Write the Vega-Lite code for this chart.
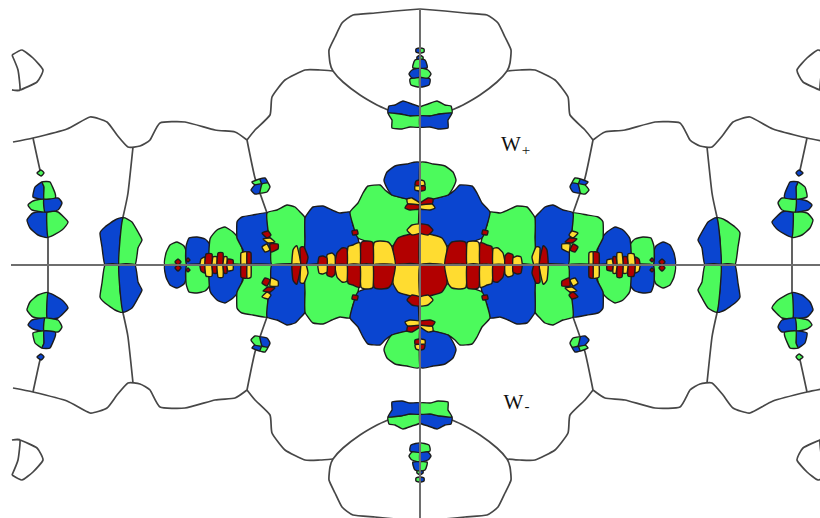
{"$schema":"https://vega.github.io/schema/vega-lite/v6.json","width":820,"height":518,"padding":0,"autosize":"none","background":"white","view":{"stroke":null},"encoding":{"x":{"field":"x","type":"quantitative","axis":null,"scale":{"domain":[-420,400]}},"y":{"field":"y","type":"quantitative","axis":null,"scale":{"domain":[-253,265]}}},"layer":[
{"data":{"values":[
{"r":"A1","x":[0,-25,-45,-67,-78,-85,-91,-90,-87,-77,-60,-43,-32],"y":[256,254,252,250,242,228,215,202,194,183,170,160,155]},
{"r":"A2","x":[0,25,45,67,78,85,91,90,87,77,60,43,32],"y":[256,254,252,250,242,228,215,202,194,183,170,160,155]},
{"r":"A3","x":[0,-25,-45,-67,-78,-85,-91,-90,-87,-77,-60,-43,-32],"y":[-256,-254,-252,-250,-242,-228,-215,-202,-194,-183,-170,-160,-155]},
{"r":"A4","x":[0,25,45,67,78,85,91,90,87,77,60,43,32],"y":[-256,-254,-252,-250,-242,-228,-215,-202,-194,-183,-170,-160,-155]},
{"r":"B1","x":[-87,-100,-115,-135,-148,-150,-165,-173],"y":[194,195,195,185,168,150,135,125]},
{"r":"B2","x":[87,100,115,135,148,150,165,173],"y":[194,195,195,185,168,150,135,125]},
{"r":"B3","x":[-87,-100,-115,-135,-148,-150,-165,-173],"y":[-194,-195,-195,-185,-168,-150,-135,-125]},
{"r":"B4","x":[87,100,115,135,148,150,165,173],"y":[-194,-195,-195,-185,-168,-150,-135,-125]},
{"r":"C1","x":[-173,-165,-153],"y":[125,87,52]},
{"r":"C2","x":[173,165,153],"y":[125,87,52]},
{"r":"C3","x":[-173,-165,-153],"y":[-125,-87,-52]},
{"r":"C4","x":[173,165,153],"y":[-125,-87,-52]},
{"r":"D1","x":[-407,-387,-353,-330,-313,-303,-292,-280,-270,-260,-235,-205,-185,-173],"y":[123,127,136,148,143,130,118,119,125,142,143,135,133,125]},
{"r":"D2","x":[407,387,353,330,313,303,292,280,270,260,235,205,185,173],"y":[123,127,136,148,143,130,118,119,125,142,143,135,133,125]},
{"r":"D3","x":[-407,-387,-353,-330,-313,-303,-292,-280,-270,-260,-235,-205,-185,-173],"y":[-123,-127,-136,-148,-143,-130,-118,-119,-125,-142,-143,-135,-133,-125]},
{"r":"D4","x":[407,387,353,330,313,303,292,280,270,260,235,205,185,173],"y":[-123,-127,-136,-148,-143,-130,-118,-119,-125,-142,-143,-135,-133,-125]},
{"r":"E1","x":[-287,-292,-297],"y":[118,72,48]},
{"r":"E2","x":[287,292,297],"y":[118,72,48]},
{"r":"E3","x":[-287,-292,-297],"y":[-118,-72,-48]},
{"r":"E4","x":[287,292,297],"y":[-118,-72,-48]},
{"r":"F1","x":[-387,-380,-378],"y":[127,95,92]},
{"r":"F2","x":[387,380,378],"y":[127,95,92]},
{"r":"F3","x":[-387,-380,-378],"y":[-127,-95,-92]},
{"r":"F4","x":[387,380,378],"y":[-127,-95,-92]},
{"r":"G1","x":[-408,-398,-387,-377,-383,-400,-408,-400,-402,-408],"y":[210,215,207,195,183,175,175,175,195,210]},
{"r":"G2","x":[408,398,387,377,383,400,408,400,402,408],"y":[210,215,207,195,183,175,175,175,195,210]},
{"r":"G3","x":[-408,-398,-387,-377,-383,-400,-408,-400,-402,-408],"y":[-210,-215,-207,-195,-183,-175,-175,-175,-195,-210]},
{"r":"G4","x":[408,398,387,377,383,400,408,400,402,408],"y":[-210,-215,-207,-195,-183,-175,-175,-175,-195,-210]},
{"r":"V1","x":[-372,-372],"y":[-30,30]},
{"r":"V2","x":[372,372],"y":[-30,30]}
]},"transform":[{"flatten":["x","y"]}],"mark":{"type":"line","order":null,"interpolate":"cardinal","tension":0.5,"stroke":"#474747","strokeWidth":1.7,"clip":true},"encoding":{"detail":{"field":"r"}}},
{"data":{"values":[
{"r":"P1a","c":"g","x":[-255,-254,-250,-243,-236,-233,-232],"y":[0,12,20,23,19,10,0]},
{"r":"P1b","c":"b","x":[255,254,250,243,236,233,232],"y":[0,12,20,23,19,10,0]},
{"r":"P1c","c":"b","x":[-255,-254,-250,-243,-236,-233,-232],"y":[0,-12,-20,-23,-19,-10,0]},
{"r":"P1d","c":"g","x":[255,254,250,243,236,233,232],"y":[0,-12,-20,-23,-19,-10,0]},
{"r":"P2a","c":"b","x":[-233,-234,-231,-223,-215,-210,-209],"y":[0,18,27,28,26,20,0]},
{"r":"P2b","c":"g","x":[233,234,231,223,215,210,209],"y":[0,18,27,28,26,20,0]},
{"r":"P2c","c":"g","x":[-233,-234,-231,-223,-215,-210,-209],"y":[0,-18,-27,-28,-26,-20,0]},
{"r":"P2d","c":"b","x":[233,234,231,223,215,210,209],"y":[0,-18,-27,-28,-26,-20,0]},
{"r":"P3a","c":"g","x":[-210,-210,-203,-195,-187,-182,-178,-177],"y":[0,26,35,38,33,27,17,0]},
{"r":"P3b","c":"b","x":[210,210,203,195,187,182,178,177],"y":[0,26,35,38,33,27,17,0]},
{"r":"P3c","c":"b","x":[-210,-210,-203,-195,-187,-182,-178,-177],"y":[0,-26,-35,-38,-33,-27,-17,0]},
{"r":"P3d","c":"g","x":[210,210,203,195,187,182,178,177],"y":[0,-26,-35,-38,-33,-27,-17,0]},
{"r":"P4a","c":"b","x":[-175,-177,-183,-183,-178,-167,-153,-152,-149,-148],"y":[0,15,27,43,48,50,52,35,22,0]},
{"r":"P4b","c":"g","x":[175,177,183,183,178,167,153,152,149,148],"y":[0,15,27,43,48,50,52,35,22,0]},
{"r":"P4c","c":"g","x":[-175,-177,-183,-183,-178,-167,-153,-152,-149,-148],"y":[0,-15,-27,-43,-48,-50,-52,-35,-22,0]},
{"r":"P4d","c":"b","x":[175,177,183,183,178,167,153,152,149,148],"y":[0,-15,-27,-43,-48,-50,-52,-35,-22,0]},
{"r":"P5a","c":"g","x":[-148,-149,-152,-153,-143,-133,-125,-120,-115,-115,-113],"y":[0,22,35,52,55,60,58,53,47,28,0]},
{"r":"P5b","c":"b","x":[148,149,152,153,143,133,125,120,115,115,113],"y":[0,22,35,52,55,60,58,53,47,28,0]},
{"r":"P5c","c":"b","x":[-148,-149,-152,-153,-143,-133,-125,-120,-115,-115,-113],"y":[0,-22,-35,-52,-55,-60,-58,-53,-47,-28,0]},
{"r":"P5d","c":"g","x":[148,149,152,153,143,133,125,120,115,115,113],"y":[0,-22,-35,-52,-55,-60,-58,-53,-47,-28,0]},
{"r":"P6a","c":"b","x":[-113,-115,-115,-112,-107,-97,-88,-80,-70,-67,-62,-60],"y":[0,28,47,52,58,59,55,52,53,40,27,0]},
{"r":"P6b","c":"g","x":[113,115,115,112,107,97,88,80,70,67,62,60],"y":[0,28,47,52,58,59,55,52,53,40,27,0]},
{"r":"P6c","c":"g","x":[-113,-115,-115,-112,-107,-97,-88,-80,-70,-67,-62,-60],"y":[0,-28,-47,-52,-58,-59,-55,-52,-53,-40,-27,0]},
{"r":"P6d","c":"b","x":[113,115,115,112,107,97,88,80,70,67,62,60],"y":[0,-28,-47,-52,-58,-59,-55,-52,-53,-40,-27,0]},
{"r":"P7a","c":"g","x":[-70,-62,-57,-52,-40,-35,-28,-13,0,0,-40,-62,-67],"y":[53,62,72,79,80,75,70,66,63,20,20,27,40]},
{"r":"P7b","c":"b","x":[70,62,57,52,40,35,28,13,0,0,40,62,67],"y":[53,62,72,79,80,75,70,66,63,20,20,27,40]},
{"r":"P7c","c":"b","x":[-70,-62,-57,-52,-40,-35,-28,-13,0,0,-40,-62,-67],"y":[-53,-62,-72,-79,-80,-75,-70,-66,-63,-20,-20,-27,-40]},
{"r":"P7d","c":"g","x":[70,62,57,52,40,35,28,13,0,0,40,62,67],"y":[-53,-62,-72,-79,-80,-75,-70,-66,-63,-20,-20,-27,-40]},
{"r":"P8a","c":"b","x":[0,-13,-25,-33,-36,-33,-28,-13,0],"y":[102,101,99,93,85,77,70,66,63]},
{"r":"P8b","c":"g","x":[0,13,25,33,36,33,28,13,0],"y":[102,101,99,93,85,77,70,66,63]},
{"r":"P8c","c":"g","x":[0,-13,-25,-33,-36,-33,-28,-13,0],"y":[-102,-101,-99,-93,-85,-77,-70,-66,-63]},
{"r":"P8d","c":"b","x":[0,13,25,33,36,33,28,13,0],"y":[-102,-101,-99,-93,-85,-77,-70,-66,-63]},
{"r":"S1a","c":"r","x":[0,-13,-22,-27,-25,0],"y":[32,30,27,18,0,0]},
{"r":"S1b","c":"y","x":[0,13,22,27,25,0],"y":[32,30,27,18,0,0]},
{"r":"S1c","c":"y","x":[0,-13,-22,-27,-25,0],"y":[-32,-30,-27,-18,0,0]},
{"r":"S1d","c":"r","x":[0,13,22,27,25,0],"y":[-32,-30,-27,-18,0,0]},
{"r":"S2a","c":"y","x":[0,-8,-13,-8,0],"y":[41,40,35,30,32]},
{"r":"S2b","c":"r","x":[0,8,13,8,0],"y":[41,40,35,30,32]},
{"r":"S2c","c":"r","x":[0,-8,-13,-8,0],"y":[-41,-40,-35,-30,-32]},
{"r":"S2d","c":"y","x":[0,8,13,8,0],"y":[-41,-40,-35,-30,-32]},
{"r":"S3a","c":"y","x":[-47,-46,-40,-32,-28,-25],"y":[0,22,24,23,18,0]},
{"r":"S3b","c":"r","x":[47,46,40,32,28,25],"y":[0,22,24,23,18,0]},
{"r":"S3c","c":"r","x":[-47,-46,-40,-32,-28,-25],"y":[0,-22,-24,-23,-18,0]},
{"r":"S3d","c":"y","x":[47,46,40,32,28,25],"y":[0,-22,-24,-23,-18,0]},
{"r":"S4a","c":"r","x":[-60,-59,-53,-47,-47],"y":[0,22,24,22,0]},
{"r":"S4b","c":"y","x":[60,59,53,47,47],"y":[0,22,24,22,0]},
{"r":"S4c","c":"y","x":[-60,-59,-53,-47,-47],"y":[0,-22,-24,-22,0]},
{"r":"S4d","c":"r","x":[60,59,53,47,47],"y":[0,-22,-24,-22,0]},
{"r":"S5a","c":"y","x":[-73,-72,-67,-60,-60],"y":[0,18,20,22,0]},
{"r":"S5b","c":"r","x":[73,72,67,60,60],"y":[0,18,20,22,0]},
{"r":"S5c","c":"r","x":[-73,-72,-67,-60,-60],"y":[0,-18,-20,-22,0]},
{"r":"S5d","c":"y","x":[73,72,67,60,60],"y":[0,-18,-20,-22,0]},
{"r":"S6a","c":"r","x":[-85,-83,-78,-73,-73],"y":[0,12,17,16,0]},
{"r":"S6b","c":"y","x":[85,83,78,73,73],"y":[0,12,17,16,0]},
{"r":"S6c","c":"y","x":[-85,-83,-78,-73,-73],"y":[0,-12,-17,-16,0]},
{"r":"S6d","c":"r","x":[85,83,78,73,73],"y":[0,-12,-17,-16,0]},
{"r":"S7a","c":"y","x":[-93,-93,-88,-85,-85],"y":[0,10,12,9,0]},
{"r":"S7b","c":"r","x":[93,93,88,85,85],"y":[0,10,12,9,0]},
{"r":"S7c","c":"r","x":[-93,-93,-88,-85,-85],"y":[0,-10,-12,-9,0]},
{"r":"S7d","c":"y","x":[93,93,88,85,85],"y":[0,-10,-12,-9,0]},
{"r":"S8a","c":"r","x":[-102,-101,-97,-93,-93],"y":[0,8,9,7,0]},
{"r":"S8b","c":"y","x":[102,101,97,93,93],"y":[0,8,9,7,0]},
{"r":"S8c","c":"y","x":[-102,-101,-97,-93,-93],"y":[0,-8,-9,-7,0]},
{"r":"S8d","c":"r","x":[102,101,97,93,93],"y":[0,-8,-9,-7,0]},
{"r":"S9a","c":"y","x":[-128,-127,-123,-119],"y":[0,15,19,0]},
{"r":"S9b","c":"r","x":[128,127,123,119],"y":[0,15,19,0]},
{"r":"S9c","c":"r","x":[-128,-127,-123,-119],"y":[0,-15,-19,0]},
{"r":"S9d","c":"y","x":[128,127,123,119],"y":[0,-15,-19,0]},
{"r":"S10a","c":"r","x":[-119,-120,-116,-112,-114],"y":[0,17,18,8,0]},
{"r":"S10b","c":"y","x":[119,120,116,112,114],"y":[0,17,18,8,0]},
{"r":"S10c","c":"y","x":[-119,-120,-116,-112,-114],"y":[0,-17,-18,-8,0]},
{"r":"S10d","c":"r","x":[119,120,116,112,114],"y":[0,-17,-18,-8,0]},
{"r":"S11a","c":"y","x":[-179,-179,-173,-173],"y":[0,12,13,0]},
{"r":"S11b","c":"r","x":[179,179,173,173],"y":[0,12,13,0]},
{"r":"S11c","c":"r","x":[-179,-179,-173,-173],"y":[0,-12,-13,0]},
{"r":"S11d","c":"y","x":[179,179,173,173],"y":[0,-12,-13,0]},
{"r":"S12a","c":"r","x":[-173,-173,-169,-169],"y":[0,13,12,0]},
{"r":"S12b","c":"y","x":[173,173,169,169],"y":[0,13,12,0]},
{"r":"S12c","c":"y","x":[-173,-173,-169,-169],"y":[0,-13,-12,0]},
{"r":"S12d","c":"r","x":[173,173,169,169],"y":[0,-13,-12,0]},
{"r":"T1a","c":"y","x":[-220,-219,-215,-215],"y":[0,6,8,0]},
{"r":"T1b","c":"r","x":[220,219,215,215],"y":[0,6,8,0]},
{"r":"T1c","c":"r","x":[-220,-219,-215,-215],"y":[0,-6,-8,0]},
{"r":"T1d","c":"y","x":[220,219,215,215],"y":[0,-6,-8,0]},
{"r":"T2a","c":"r","x":[-215,-214,-208,-208],"y":[0,11,11,0]},
{"r":"T2b","c":"y","x":[215,214,208,208],"y":[0,11,11,0]},
{"r":"T2c","c":"y","x":[-215,-214,-208,-208],"y":[0,-11,-11,0]},
{"r":"T2d","c":"r","x":[215,214,208,208],"y":[0,-11,-11,0]},
{"r":"T3a","c":"y","x":[-208,-207,-203,-203],"y":[0,8,8,0]},
{"r":"T3b","c":"r","x":[208,207,203,203],"y":[0,8,8,0]},
{"r":"T3c","c":"r","x":[-208,-207,-203,-203],"y":[0,-8,-8,0]},
{"r":"T3d","c":"y","x":[208,207,203,203],"y":[0,-8,-8,0]},
{"r":"T4a","c":"r","x":[-203,-202,-197,-197],"y":[0,12,12,0]},
{"r":"T4b","c":"y","x":[203,202,197,197],"y":[0,12,12,0]},
{"r":"T4c","c":"y","x":[-203,-202,-197,-197],"y":[0,-12,-12,0]},
{"r":"T4d","c":"r","x":[203,202,197,197],"y":[0,-12,-12,0]},
{"r":"T5a","c":"y","x":[-197,-196,-193,-193],"y":[0,8,8,0]},
{"r":"T5b","c":"r","x":[197,196,193,193],"y":[0,8,8,0]},
{"r":"T5c","c":"r","x":[-197,-196,-193,-193],"y":[0,-8,-8,0]},
{"r":"T5d","c":"y","x":[197,196,193,193],"y":[0,-8,-8,0]},
{"r":"T6a","c":"r","x":[-193,-192,-187,-187],"y":[0,6,5,0]},
{"r":"T6b","c":"y","x":[193,192,187,187],"y":[0,6,5,0]},
{"r":"T6c","c":"y","x":[-193,-192,-187,-187],"y":[0,-6,-5,0]},
{"r":"T6d","c":"r","x":[193,192,187,187],"y":[0,-6,-5,0]},
{"r":"D1a","c":"r","x":[-245,-242,-239,-242],"y":[3,6,3,0]},
{"r":"D1b","c":"r","x":[245,242,239,242],"y":[3,6,3,0]},
{"r":"D1c","c":"r","x":[-245,-242,-239,-242],"y":[-3,-6,-3,0]},
{"r":"D1d","c":"r","x":[245,242,239,242],"y":[-3,-6,-3,0]},
{"r":"D2a","c":"r","x":[-234,-232,-230,-232],"y":[5,7,5,3]},
{"r":"D2b","c":"r","x":[234,232,230,232],"y":[5,7,5,3]},
{"r":"D2c","c":"r","x":[-234,-232,-230,-232],"y":[-5,-7,-5,-3]},
{"r":"D2d","c":"r","x":[234,232,230,232],"y":[-5,-7,-5,-3]},
{"r":"C1a","c":"r","x":[-158,-152,-149,-153],"y":[32,34,30,27]},
{"r":"C1b","c":"y","x":[158,152,149,153],"y":[32,34,30,27]},
{"r":"C1c","c":"y","x":[-158,-152,-149,-153],"y":[-32,-34,-30,-27]},
{"r":"C1d","c":"r","x":[158,152,149,153],"y":[-32,-34,-30,-27]},
{"r":"C2a","c":"y","x":[-157,-150,-145,-152],"y":[26,27,23,22]},
{"r":"C2b","c":"r","x":[157,150,145,152],"y":[26,27,23,22]},
{"r":"C2c","c":"r","x":[-157,-150,-145,-152],"y":[-26,-27,-23,-22]},
{"r":"C2d","c":"y","x":[157,150,145,152],"y":[-26,-27,-23,-22]},
{"r":"C3a","c":"y","x":[-158,-153,-150,-155],"y":[18,21,15,13]},
{"r":"C3b","c":"r","x":[158,153,150,155],"y":[18,21,15,13]},
{"r":"C3c","c":"r","x":[-158,-153,-150,-155],"y":[-18,-21,-15,-13]},
{"r":"C3d","c":"y","x":[158,153,150,155],"y":[-18,-21,-15,-13]},
{"r":"C4a","c":"r","x":[-150,-142,-142,-149],"y":[21,21,16,13]},
{"r":"C4b","c":"y","x":[150,142,142,149],"y":[21,21,16,13]},
{"r":"C4c","c":"y","x":[-150,-142,-142,-149],"y":[-21,-21,-16,-13]},
{"r":"C4d","c":"r","x":[150,142,142,149],"y":[-21,-21,-16,-13]},
{"r":"M1a","c":"r","x":[-68,-63,-62,-67],"y":[34,35,31,30]},
{"r":"M1b","c":"r","x":[68,63,62,67],"y":[34,35,31,30]},
{"r":"M1c","c":"r","x":[-68,-63,-62,-67],"y":[-34,-35,-31,-30]},
{"r":"M1d","c":"r","x":[68,63,62,67],"y":[-34,-35,-31,-30]},
{"r":"H1a","c":"y","x":[0,-8,-13,-12,0],"y":[62,67,66,61,60]},
{"r":"H1b","c":"r","x":[0,8,13,12,0],"y":[62,67,66,61,60]},
{"r":"H1c","c":"r","x":[0,-8,-13,-12,0],"y":[-62,-67,-66,-61,-60]},
{"r":"H1d","c":"y","x":[0,8,13,12,0],"y":[-62,-67,-66,-61,-60]},
{"r":"H2a","c":"r","x":[0,-12,-15,-10,0],"y":[60,61,57,55,56]},
{"r":"H2b","c":"y","x":[0,12,15,10,0],"y":[60,61,57,55,56]},
{"r":"H2c","c":"y","x":[0,-12,-15,-10,0],"y":[-60,-61,-57,-55,-56]},
{"r":"H2d","c":"r","x":[0,12,15,10,0],"y":[-60,-61,-57,-55,-56]},
{"r":"J1a","c":"r","x":[0,-4,-5,0],"y":[85,84,80,79]},
{"r":"J1b","c":"y","x":[0,4,5,0],"y":[85,84,80,79]},
{"r":"J1c","c":"y","x":[0,-4,-5,0],"y":[-85,-84,-80,-79]},
{"r":"J1d","c":"r","x":[0,4,5,0],"y":[-85,-84,-80,-79]},
{"r":"J2a","c":"y","x":[0,-5,-5,0],"y":[79,79,75,74]},
{"r":"J2b","c":"r","x":[0,5,5,0],"y":[79,79,75,74]},
{"r":"J2c","c":"r","x":[0,-5,-5,0],"y":[-79,-79,-75,-74]},
{"r":"J2d","c":"y","x":[0,5,5,0],"y":[-79,-79,-75,-74]},
{"r":"L1a","c":"g","x":[-168,-160,-158,-165],"y":[83,86,81,80]},
{"r":"L1b","c":"b","x":[168,160,158,165],"y":[83,86,81,80]},
{"r":"L1c","c":"b","x":[-168,-160,-158,-165],"y":[-83,-86,-81,-80]},
{"r":"L1d","c":"g","x":[168,160,158,165],"y":[-83,-86,-81,-80]},
{"r":"L2a","c":"b","x":[-160,-155,-152,-158],"y":[86,87,82,81]},
{"r":"L2b","c":"g","x":[160,155,152,158],"y":[86,87,82,81]},
{"r":"L2c","c":"g","x":[-160,-155,-152,-158],"y":[-86,-87,-82,-81]},
{"r":"L2d","c":"b","x":[160,155,152,158],"y":[-86,-87,-82,-81]},
{"r":"L3a","c":"b","x":[-165,-158,-160,-165,-169],"y":[80,81,72,71,75]},
{"r":"L3b","c":"g","x":[165,158,160,165,169],"y":[80,81,72,71,75]},
{"r":"L3c","c":"g","x":[-165,-158,-160,-165,-169],"y":[-80,-81,-72,-71,-75]},
{"r":"L3d","c":"b","x":[165,158,160,165,169],"y":[-80,-81,-72,-71,-75]},
{"r":"L4a","c":"g","x":[-158,-152,-150,-153,-160],"y":[81,82,78,73,72]},
{"r":"L4b","c":"b","x":[158,152,150,153,160],"y":[81,82,78,73,72]},
{"r":"L4c","c":"b","x":[-158,-152,-150,-153,-160],"y":[-81,-82,-78,-73,-72]},
{"r":"L4d","c":"g","x":[158,152,150,153,160],"y":[-81,-82,-78,-73,-72]},
{"r":"W1a","c":"b","x":[-297,-305,-315,-320,-318,-315,-301,-300],"y":[47,45,38,32,18,0,0,25]},
{"r":"W1b","c":"g","x":[297,305,315,320,318,315,301,300],"y":[47,45,38,32,18,0,0,25]},
{"r":"W1c","c":"g","x":[-297,-305,-315,-320,-318,-315,-301,-300],"y":[-47,-45,-38,-32,-18,0,0,-25]},
{"r":"W1d","c":"b","x":[297,305,315,320,318,315,301,300],"y":[-47,-45,-38,-32,-18,0,0,-25]},
{"r":"W2a","c":"g","x":[-297,-288,-282,-278,-282,-285,-301,-300],"y":[47,43,33,25,17,0,0,25]},
{"r":"W2b","c":"b","x":[297,288,282,278,282,285,301,300],"y":[47,43,33,25,17,0,0,25]},
{"r":"W2c","c":"b","x":[-297,-288,-282,-278,-282,-285,-301,-300],"y":[-47,-43,-33,-25,-17,0,0,-25]},
{"r":"W2d","c":"g","x":[297,288,282,278,282,285,301,300],"y":[-47,-43,-33,-25,-17,0,0,-25]},
{"r":"F1a","c":"b","x":[-373,-387,-393,-390,-382,-372],"y":[53,52,45,37,30,28]},
{"r":"F1b","c":"g","x":[373,387,393,390,382,372],"y":[53,52,45,37,30,28]},
{"r":"F1c","c":"g","x":[-373,-387,-393,-390,-382,-372],"y":[-53,-52,-45,-37,-30,-28]},
{"r":"F1d","c":"b","x":[373,387,393,390,382,372],"y":[-53,-52,-45,-37,-30,-28]},
{"r":"F2a","c":"g","x":[-373,-362,-352,-358,-372],"y":[53,53,43,35,28]},
{"r":"F2b","c":"b","x":[373,362,352,358,372],"y":[53,53,43,35,28]},
{"r":"F2c","c":"b","x":[-373,-362,-352,-358,-372],"y":[-53,-53,-43,-35,-28]},
{"r":"F2d","c":"g","x":[373,362,352,358,372],"y":[-53,-53,-43,-35,-28]},
{"r":"F3a","c":"g","x":[-376,-387,-392,-388,-375],"y":[66,64,60,55,53]},
{"r":"F3b","c":"b","x":[376,387,392,388,375],"y":[66,64,60,55,53]},
{"r":"F3c","c":"b","x":[-376,-387,-392,-388,-375],"y":[-66,-64,-60,-55,-53]},
{"r":"F3d","c":"g","x":[376,387,392,388,375],"y":[-66,-64,-60,-55,-53]},
{"r":"F4a","c":"b","x":[-376,-362,-358,-362,-375],"y":[66,67,62,55,53]},
{"r":"F4b","c":"g","x":[376,362,358,362,375],"y":[66,67,62,55,53]},
{"r":"F4c","c":"g","x":[-376,-362,-358,-362,-375],"y":[-66,-67,-62,-55,-53]},
{"r":"F4d","c":"b","x":[376,362,358,362,375],"y":[-66,-67,-62,-55,-53]},
{"r":"F5a","c":"b","x":[-378,-385,-387,-376,-376],"y":[83,78,68,66,78]},
{"r":"F5b","c":"g","x":[378,385,387,376,376],"y":[83,78,68,66,78]},
{"r":"F5c","c":"g","x":[-378,-385,-387,-376,-376],"y":[-83,-78,-68,-66,-78]},
{"r":"F5d","c":"b","x":[378,385,387,376,376],"y":[-83,-78,-68,-66,-78]},
{"r":"F6a","c":"g","x":[-378,-370,-365,-365,-376,-376],"y":[83,83,72,67,66,78]},
{"r":"F6b","c":"b","x":[378,370,365,365,376,376],"y":[83,83,72,67,66,78]},
{"r":"F6c","c":"b","x":[-378,-370,-365,-365,-376,-376],"y":[-83,-83,-72,-67,-66,-78]},
{"r":"F6d","c":"g","x":[378,370,365,365,376,376],"y":[-83,-83,-72,-67,-66,-78]},
{"r":"F7a","c":"g","x":[-376,-379,-383,-379],"y":[92,95,92,89]},
{"r":"F7b","c":"b","x":[376,379,383,379],"y":[92,95,92,89]},
{"r":"F7c","c":"b","x":[-376,-379,-383,-379],"y":[-92,-95,-92,-89]},
{"r":"F7d","c":"g","x":[376,379,383,379],"y":[-92,-95,-92,-89]},
{"r":"N1a","c":"b","x":[0,-8,-17,-25,-31,-32,-20,-10,0],"y":[158,161,164,160,159,152,151,149,149]},
{"r":"N1b","c":"g","x":[0,8,17,25,31,32,20,10,0],"y":[158,161,164,160,159,152,151,149,149]},
{"r":"N1c","c":"g","x":[0,-8,-17,-25,-31,-32,-20,-10,0],"y":[-158,-161,-164,-160,-159,-152,-151,-149,-149]},
{"r":"N1d","c":"b","x":[0,8,17,25,31,32,20,10,0],"y":[-158,-161,-164,-160,-159,-152,-151,-149,-149]},
{"r":"N2a","c":"g","x":[-32,-28,-28,-18,-10,0,0,-10,-20],"y":[152,145,137,136,138,138,149,149,151]},
{"r":"N2b","c":"b","x":[32,28,28,18,10,0,0,10,20],"y":[152,145,137,136,138,138,149,149,151]},
{"r":"N2c","c":"b","x":[-32,-28,-28,-18,-10,0,0,-10,-20],"y":[-152,-145,-137,-136,-138,-138,-149,-149,-151]},
{"r":"N2d","c":"g","x":[32,28,28,18,10,0,0,10,20],"y":[-152,-145,-137,-136,-138,-138,-149,-149,-151]},
{"r":"K1a","c":"g","x":[0,-10,-9,0],"y":[188,186,180,178]},
{"r":"K1b","c":"b","x":[0,10,9,0],"y":[188,186,180,178]},
{"r":"K1c","c":"b","x":[0,-10,-9,0],"y":[-188,-186,-180,-178]},
{"r":"K1d","c":"g","x":[0,10,9,0],"y":[-188,-186,-180,-178]},
{"r":"K2a","c":"b","x":[0,-8,-11,-8,0],"y":[197,195,191,187,188]},
{"r":"K2b","c":"g","x":[0,8,11,8,0],"y":[197,195,191,187,188]},
{"r":"K2c","c":"g","x":[0,-8,-11,-8,0],"y":[-197,-195,-191,-187,-188]},
{"r":"K2d","c":"b","x":[0,8,11,8,0],"y":[-197,-195,-191,-187,-188]},
{"r":"K3a","c":"g","x":[0,-5,-7,-7,0],"y":[206,205,200,197,197]},
{"r":"K3b","c":"b","x":[0,5,7,7,0],"y":[206,205,200,197,197]},
{"r":"K3c","c":"b","x":[0,-5,-7,-7,0],"y":[-206,-205,-200,-197,-197]},
{"r":"K3d","c":"g","x":[0,5,7,7,0],"y":[-206,-205,-200,-197,-197]},
{"r":"K4a","c":"b","x":[0,-3,-3,0],"y":[210,208,206,206]},
{"r":"K4b","c":"g","x":[0,3,3,0],"y":[210,208,206,206]},
{"r":"K4c","c":"g","x":[0,-3,-3,0],"y":[-210,-208,-206,-206]},
{"r":"K4d","c":"b","x":[0,3,3,0],"y":[-210,-208,-206,-206]},
{"r":"K5a","c":"b","x":[0,-4,-4,0],"y":[217,216,213,212]},
{"r":"K5b","c":"g","x":[0,4,4,0],"y":[217,216,213,212]},
{"r":"K5c","c":"g","x":[0,-4,-4,0],"y":[-217,-216,-213,-212]},
{"r":"K5d","c":"b","x":[0,4,4,0],"y":[-217,-216,-213,-212]}
]},"transform":[{"flatten":["x","y"]}],"mark":{"type":"line","order":null,"filled":true,"interpolate":"cardinal-closed","tension":0.55,"stroke":"#1c1c1c","strokeWidth":1.4,"strokeJoin":"round","clip":true},"encoding":{"detail":{"field":"r"},"color":{"field":"c","type":"nominal","legend":null,"scale":{"domain":["g","b","r","y"],"range":["#4cfa5c","#0a45d0","#b20000","#ffdc30"]}}}},
{"data":{"values":[{"r":"h","x":[-409,409],"y":[0,0]},{"r":"v","x":[0,0],"y":[256,-256]}]},"transform":[{"flatten":["x","y"]}],"mark":{"type":"line","order":null,"stroke":"#6e6e6e","strokeWidth":2,"clip":true},"encoding":{"detail":{"field":"r"}}},
{"data":{"values":[{"t":"W","x":91,"y":114,"s":"big"},{"t":"+","x":106,"y":110,"s":"small"},{"t":"W","x":93.5,"y":-144,"s":"big"},{"t":"-","x":107,"y":-146,"s":"small"}]},"mark":{"type":"text","font":"Liberation Serif","color":"#111","baseline":"alphabetic","align":"center"},"encoding":{"text":{"field":"t"},"size":{"field":"s","type":"nominal","legend":null,"scale":{"domain":["big","small"],"range":[21,15]}}}}
]}
